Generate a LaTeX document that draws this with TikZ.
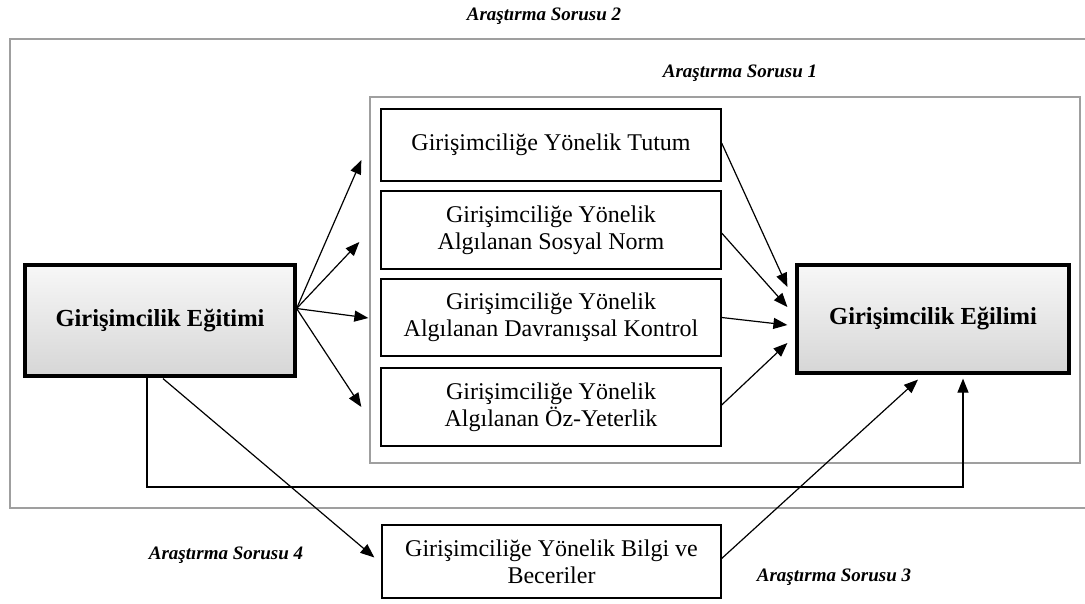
\documentclass[tikz,border=0pt]{standalone}
\usepackage{fontspec}
\setmainfont{Liberation Serif}
\usetikzlibrary{arrows.meta,calc}
\begin{document}
\begin{tikzpicture}[x=1pt,y=-1pt,
  frame/.style={draw=gray!75,line width=1.3pt},
  smallbox/.style={draw=black,line width=1.3pt,minimum width=340pt,align=center,inner sep=0pt,font=\fontsize{24}{27}\selectfont},
  bigbox/.style={draw=black,line width=3.2pt,top color=gray!6,bottom color=gray!32,align=center,inner sep=0pt,font=\fontsize{24.5}{28}\selectfont\bfseries},
  qlabel/.style={font=\fontsize{19}{22}\selectfont\bfseries\itshape},
  arr/.style={line width=1.2pt,-{Triangle[length=14pt,width=11pt]}},
  con/.style={line width=1.2pt}]
\useasboundingbox (0,0) rectangle (1085,603);
% frames
\draw[frame] (1085,39) -- (10,39) -- (10,508) -- (1085,508);
\draw[frame] (370,97) rectangle (1080,463);
% labels
\node[qlabel] (q2) at (544,16) {Araştırma Sorusu 2};
\node[qlabel] (q1) at (740,73) {Araştırma Sorusu 1};
\node[qlabel] (q4) at (226,555) {Araştırma Sorusu 4};
\node[qlabel] (q3) at (834,577) {Araştırma Sorusu 3};
% big boxes
\node[bigbox,minimum width=270pt,minimum height=111pt] (le) at (160,320.5) {Girişimcilik Eğitimi};
\node[bigbox,minimum width=272pt,minimum height=108pt] (re) at (933,319) {Girişimcilik Eğilimi};
% small boxes
\node[smallbox,minimum height=72pt] (b1) at (551,145) {Girişimciliğe Yönelik Tutum};
\node[smallbox,minimum height=78pt] (b2) at (551,230) {Girişimciliğe Yönelik\\Algılanan Sosyal Norm};
\node[smallbox,minimum height=77pt] (b3) at (551,317.5) {Girişimciliğe Yönelik\\Algılanan Davranışsal Kontrol};
\node[smallbox,minimum height=78pt] (b4) at (551,407) {Girişimciliğe Yönelik\\Algılanan Öz-Yeterlik};
\node[smallbox,minimum width=339pt,minimum height=73pt] (bb) at (551.5,561.5) {Girişimciliğe Yönelik Bilgi ve\\Beceriler};
% arrows from left box
\coordinate (src) at ($(le.east)+(0,-12)$);
\coordinate (t1) at ($(b1.west)+(-19,15)$);
\coordinate (t2) at ($(b2.west)+(-21,12)$);
\coordinate (t3) at ($(b3.west)+(-12,0.5)$);
\coordinate (t4) at ($(b4.west)+(-19,0)$);
\draw[arr] (src) -- (t1);
\draw[arr] (src) -- (t2);
\draw[arr] (src) -- (t3);
\draw[arr] (src) -- (t4);
% arrows to right box
\coordinate (s1) at ($(b1.east)+(0,-2)$);
\coordinate (s2) at ($(b2.east)+(0,3)$);
\coordinate (s3) at ($(b3.east)+(0,0)$);
\coordinate (s4) at ($(b4.east)+(0,-2)$);
\coordinate (r1) at ($(re.west)+(-8,-32)$);
\coordinate (r2) at ($(re.west)+(-8,-12)$);
\coordinate (r3) at ($(re.west)+(-8,6)$);
\coordinate (r4) at ($(re.west)+(-8,24)$);
\draw[arr] (s1) -- (r1);
\draw[arr] (s2) -- (r2);
\draw[arr] (s3) -- (r3);
\draw[arr] (s4) -- (r4);
% bottom connectors
\coordinate (la) at ($(le.south)+(-13,0)$);
\coordinate (rb) at ($(re.south)+(30,4)$);
\draw[arr] (la) -- (la |- 0,487) -- (rb |- 0,487) -- (rb);
\coordinate (lc) at ($(le.south)+(3,1)$);
\coordinate (bt) at ($(bb.west)+(-7,-4)$);
\draw[arr] (lc) -- (bt);
\coordinate (bs) at ($(bb.east)+(0,-3)$);
\coordinate (rt) at ($(re.south)+(-15,5)$);
\draw[arr] (bs) -- (rt);
\end{tikzpicture}
\end{document}
